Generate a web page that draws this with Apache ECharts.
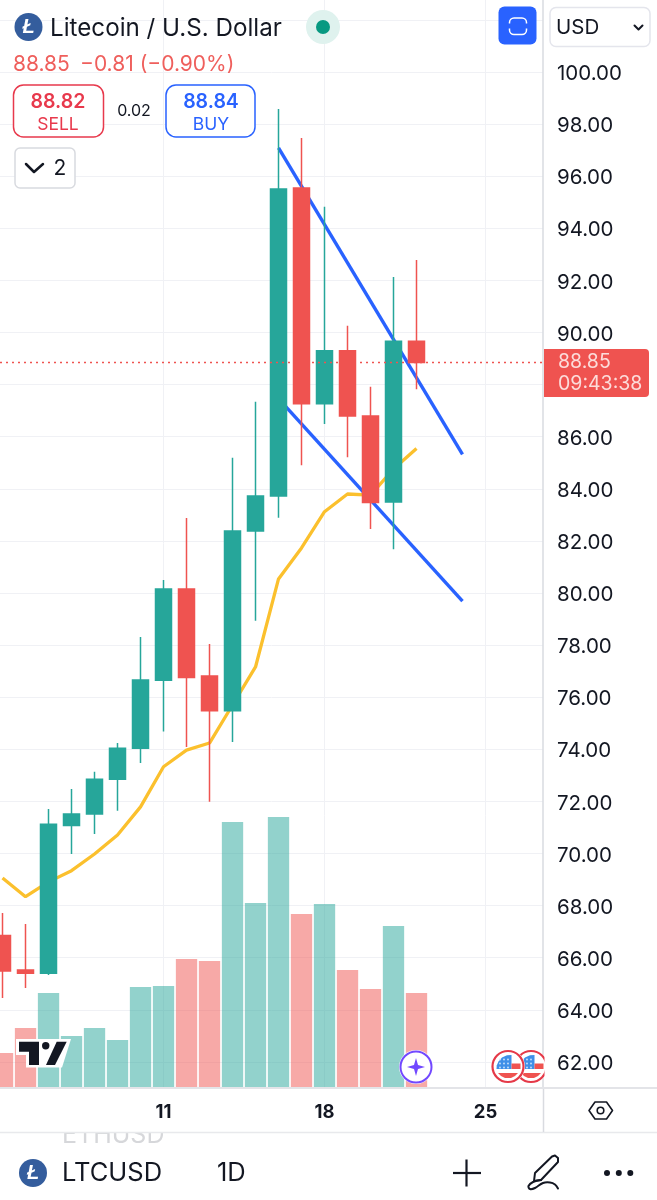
<!DOCTYPE html>
<html><head><meta charset="utf-8">
<style>html,body{margin:0;padding:0;background:#fff}#c{width:657px;height:1200px}</style>
<script src="https://cdn.jsdelivr.net/npm/echarts@6/dist/echarts.min.js"></script>
</head><body><div id="c"></div>
<script>
const days    = [4,5,6,7,8,9,10,11,12,13,14,15,16,17,18,19,20,21,22];
const opens   = [66.85,65.53,65.40,71.07,71.52,72.85,74.04,76.65,80.15,76.81,75.48,82.38,83.72,95.55,87.26,89.30,86.79,83.49,89.66];
const closes  = [65.49,65.40,71.12,71.52,72.85,74.04,76.66,80.15,76.76,75.48,82.38,83.72,95.51,87.26,89.30,86.79,83.47,89.66,88.85];
const lows    = [64.45,64.84,65.34,69.98,70.75,71.64,73.47,74.68,74.09,71.99,74.28,78.93,82.89,84.90,86.49,85.21,82.46,81.68,87.82];
const highs   = [67.72,67.29,71.71,72.48,73.14,74.24,78.31,80.50,82.88,78.04,85.19,87.34,98.58,97.47,94.83,90.26,87.92,92.13,92.78];
const volumes = [34,59,94,51,59,47,100,101,128,126,265,184,270,173,183,117,98,161,94];
const maValues= [69.06,68.34,68.91,69.34,69.98,70.71,71.79,73.33,73.97,74.24,75.70,77.16,80.54,81.73,83.12,83.80,83.76,84.76,85.55];
const trendUpper = [[16,97.09],[24,85.32]];
const trendLower = [[16,87.46],[24,79.69]];
const lastPrice = 88.85;
const priceTicks = [62,64,66,68,70,72,74,76,78,80,82,84,86,88,90,92,94,96,98,100];
const gridTicks  = priceTicks.concat([102]);
const dayTicks = [11,18,25];

const UP='#26a69a', DOWN='#ef5350', GRID='#f0f1f5', INK='#131722', BLUE='#2962ff', SELL='#e8394c';
const FONT='Inter, "Noto Sans", sans-serif';
const txt=(x,y,text,o={})=>({type:'text',x,y:y+1.5,z:o.z||50,style:{text,fontFamily:o.ff||FONT,fontSize:o.size||20,fontWeight:o.w||400,fontStyle:o.st||'normal',fill:o.c||INK,textAlign:o.a||'left',textVerticalAlign:'middle'}});
const rr=(x,y,w,h,r,fill,stroke,lw,z)=>({type:'rect',z:z||40,shape:{x,y,width:w,height:h,r},style:{fill:fill||'none',stroke:stroke||'none',lineWidth:lw||0}});
const circ=(cx,cy,r,fill,stroke,lw,z)=>({type:'circle',z:z||40,shape:{cx,cy,r},style:{fill:fill||'none',stroke:stroke||'none',lineWidth:lw||0}});
const seg=(x1,y1,x2,y2,c,lw,z)=>({type:'line',z:z||40,shape:{x1,y1,x2,y2},style:{stroke:c,lineWidth:lw}});
const poly=(pts,fill,z)=>({type:'polygon',z:z||40,shape:{points:pts},style:{fill}});
const pl=(pts,c,lw,z,smooth)=>({type:'polyline',z:z||40,shape:{points:pts,smooth:smooth||0},style:{stroke:c,lineWidth:lw,fill:'none',lineCap:'round',lineJoin:'round'}});
function flag(cx,cy,z){
  const dots=[];
  [-8,-4,0].forEach(dx=>[-7,-3,1].forEach(dy=>dots.push(circ(cx+dx,cy+dy,0.9,'#cfe4fb',null,0,z))));
  return [
    circ(cx,cy,17,'#fff',null,0,z),
    circ(cx,cy,15.5,'#fff','#e53948',2.2,z),
    poly([[cx-11.5,cy+2.5],[cx-11.3,cy-1],[cx-9.5,cy-5],[cx-6,cy-9],[cx-1,cy-11.3],[cx+3.5,cy-11.5],[cx+3.5,cy+2.5]],'#3f8fe8',z),
    rr(cx+3.5,cy-3,9,5.5,0,'#ef5350',null,0,z),
    poly([[cx-10,cy+6.5],[cx+10,cy+6.5],[cx+7,cy+9.5],[cx+3,cy+11.5],[cx-3,cy+11.5],[cx-7,cy+9.5]],'#ef5350',z),
    ...dots
  ];
}
function logo(cx,cy){return [circ(cx,cy,14,'#345d9d'),txt(cx,cy-1,'Ł',{ff:'"Liberation Sans"',size:20,w:700,st:'italic',c:'#fff',a:'center',z:41})];}

const graphics=[
  seg(543.5,1087,543.5,1132,'#d9dbe0',1.5),
  seg(0,1088,657,1088,'#e3e4e8',2),
  txt(62,1133.5,'ETHUSD',{size:25,c:'#d6d7da',z:30}),
  rr(0,1120,657,12,0,'#fff',null,0,31),
  seg(0,1132.5,657,1132.5,'#e8e9ec',1.5,32),
  ...logo(28.5,27),
  txt(50,27,'Litecoin / U.S. Dollar',{size:24.2}),
  circ(323,27,17,'#dff2ee'),circ(323,27,7,'#089981',null,0,41),
  txt(13,63,'88.85',{size:21,c:'#ef5f5c'}),txt(80,63,'−0.81 (−0.90%)',{size:21,c:'#ef5f5c'}),
  rr(13.5,85,90,52,10,'#fff',SELL,1.5),
  txt(58,100.5,'88.82',{size:19.5,w:600,c:SELL,a:'center'}),txt(58,123,'SELL',{size:17.5,c:SELL,a:'center'}),
  txt(134,110,'0.02',{size:16,a:'center'}),
  rr(166,85,89,52,10,'#fff',BLUE,1.5),
  txt(211,100.5,'88.84',{size:19.5,w:600,c:BLUE,a:'center'}),txt(211,123,'BUY',{size:17.5,c:BLUE,a:'center'}),
  rr(15,148,60,40,5,'#fff','#d8dadf',1.5),
  pl([[26,164],[34,172],[43,164]],INK,2.5,41),
  txt(60,167,'2',{size:21,a:'center'}),
  rr(498.5,6.5,38,38,6,BLUE),
  rr(509.5,18,17,16.5,4.5,'none','#fff',1.5,41),
  rr(507,23.5,22,5,0,BLUE,null,0,42),
  rr(550,7.5,100,39,6,'#fff','#e4e5ec',1.5),
  txt(556,26,'USD',{size:20.5}),
  pl([[634.5,25.5],[638.5,29.5],[642.5,25.5]],INK,2,41),
  rr(544,349,105,48,[0,4,4,0],DOWN),
  txt(558,361,'88.85',{size:19.5,c:'#fcdcda',z:41}),
  txt(558,383,'09:43:38',{size:19.5,c:'#fcdcda',z:41}),
  poly([[16,1039],[71,1039],[62,1067.5],[26,1067.5],[26,1055],[16,1055]],'#fff'),
  poly([[19,1041.7],[39,1041.7],[39,1065],[29,1065],[29,1051.7],[19,1051.7]],INK,41),
  circ(45.7,1045.7,3.7,INK,null,0,41),
  poly([[56.7,1041.7],[66.7,1041.7],[55,1065],[46,1065]],INK,41),
  circ(416,1067,17,'#fff'),circ(416,1067,15.5,'#fff','#7248ff',2,41),
  poly([[416,1058],[418,1065],[425,1067],[418,1069],[416,1076],[414,1069],[407,1067],[414,1065]],'#7248ff',42),
  ...flag(531,1066.5,43),
  ...flag(508,1066.5,44),
  rr(544.5,1048,5,38,0,'#fff',null,0,45),
  {type:'polygon',z:40,shape:{points:[[589,1110.5],[595,1102],[606.5,1102],[612.5,1110.5],[606.5,1119],[595,1119]]},style:{fill:'none',stroke:INK,lineWidth:1.6,lineJoin:'round'}},
  circ(600.5,1110.5,3.3,'none',INK,1.6),
  ...logo(33,1173),
  txt(62,1172,'LTCUSD',{size:25.5}),
  txt(217,1172,'1D',{size:25.5}),
  seg(453,1173,481,1173,INK,2.2),seg(466.5,1159.5,466.5,1186.5,INK,2.2),
  pl([[535,1173],[552,1156.5],[555,1155.5],[558,1158],[558,1162],[541,1180],[534,1181],[535,1173]],INK,2),
  pl([[541,1180],[533,1182],[528.5,1186],[530,1189],[535,1188],[543,1183],[550,1182.5],[555,1184.5],[558,1188.5]],INK,2,40,0.4),
  circ(607,1173,3,INK),circ(618.8,1173,3,INK),circ(630.3,1173,3,INK)
];

const option={
  animation:false,
  textStyle:{fontFamily:FONT},
  grid:{left:0,top:0,width:543,height:1087,containLabel:false},
  xAxis:{type:'value',min:3.89,max:27.5,
    axisLine:{show:false},axisTick:{show:false,customValues:dayTicks},
    axisLabel:{customValues:dayTicks,formatter:v=>String(v),color:INK,fontSize:18.5,fontWeight:700,margin:16,fontFamily:FONT},
    splitLine:{show:true,lineStyle:{color:GRID,width:1}}},
  yAxis:[
    {type:'value',position:'right',min:61.036,max:102.764,scale:true,
     axisLine:{show:true,lineStyle:{color:'#d9dbe0',width:1.5}},
     axisTick:{show:false,customValues:gridTicks},
     axisLabel:{customValues:priceTicks,formatter:v=>Number(v).toFixed(2),color:INK,fontSize:20.5,margin:14,verticalAlign:'top',lineHeight:4,fontFamily:FONT},
     splitLine:{show:true,lineStyle:{color:GRID,width:1}}},
    {type:'value',show:false,min:0,max:1087,splitLine:{show:false}}
  ],
  series:[
    {type:'bar',name:'Volume',yAxisIndex:1,z:1,barWidth:21.3,
     data:days.map((d,i)=>({value:[d,volumes[i]],itemStyle:{color:closes[i]>=opens[i]?'rgba(38,166,154,0.5)':'rgba(239,83,80,0.5)'}}))},
    {type:'line',name:'MA',z:2,showSymbol:false,symbol:'none',lineStyle:{color:'#fbc02d',width:3.3},data:days.map((d,i)=>[d,maValues[i]])},
    {type:'line',name:'Upper',z:3,symbol:'none',lineStyle:{color:BLUE,width:3.4},data:trendUpper},
    {type:'line',name:'Lower',z:3,symbol:'none',lineStyle:{color:BLUE,width:3.4},data:trendLower},
    {type:'candlestick',name:'LTCUSD',z:4,barWidth:17,
     itemStyle:{color:UP,color0:DOWN,borderColor:UP,borderColor0:DOWN,borderWidth:1.5},
     data:days.map((d,i)=>[d,opens[i],closes[i],lows[i],highs[i]])},
    {type:'line',name:'Last',z:5,symbol:'none',lineStyle:{color:DOWN,width:1.5,type:[2,4]},data:[[3.89,lastPrice],[27.5,lastPrice]]}
  ],
  graphic:{elements:graphics}
};
echarts.init(document.getElementById('c'),null,{renderer:'canvas'}).setOption(option);
</script></body></html>
